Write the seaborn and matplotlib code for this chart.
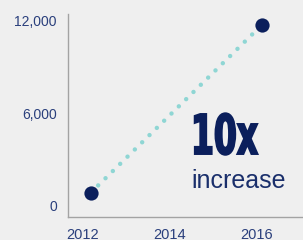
import matplotlib
matplotlib.use("Agg")
from matplotlib import pyplot as plt
from matplotlib import patheffects
from matplotlib.transforms import Affine2D
import seaborn as sns
import pandas as pd

# values
years = [2012.18, 2016.12]
users = [850, 11750]
x_ticks = [2012, 2014, 2016]
y_ticks = [0, 6000, 12000]
y_labels = ["0", "6,000", "12,000"]

df = pd.DataFrame({"year": years, "value": users})

bg = "#efefef"
navy = "#0b1f5c"
label_col = "#2a3f7c"
teal = "#8fd6d4"


class Squeeze(patheffects.Stroke):
    # narrow the glyphs around the text origin and fatten them a little
    def __init__(self, sx, **kw):
        super().__init__(**kw)
        self.sx = sx

    def draw_path(self, renderer, gc, tpath, affine, rgbFace):
        x0 = affine.transform((0, 0))[0]
        squeeze = Affine2D().translate(-x0, 0).scale(self.sx, 1).translate(x0, 0)
        gc0 = renderer.new_gc()
        gc0.copy_properties(gc)
        gc0 = self._update_gc(gc0, self._gc)
        gc0.set_joinstyle("miter")
        renderer.draw_path(gc0, tpath, affine + squeeze, rgbFace)
        gc0.restore()


sns.set_theme(style="white")
plt.rcParams["font.family"] = ["Liberation Sans", "DejaVu Sans"]

fig = plt.figure(figsize=(3.03, 2.40), dpi=100, facecolor=bg)
ax = fig.add_axes([68 / 303, 1 - 216.7 / 240, 1 - 68 / 303, (216.7 - 14) / 240])
ax.set_facecolor(bg)

sns.lineplot(data=df, x="year", y="value", ax=ax, color=teal,
             linewidth=3.2, linestyle=(0, (0.01, 2.3)),
             dash_capstyle="round")

sns.scatterplot(data=df, x="year", y="value", ax=ax, color=navy,
                s=105, linewidth=0, zorder=5)

ax.set_xlim(2011.655, 2017.057)
ax.set_ylim(-713, 12435)
ax.set_xticks(x_ticks)
ax.set_xticklabels([str(t) for t in x_ticks])
ax.set_yticks(y_ticks)
ax.set_yticklabels(y_labels)
ax.set_xlabel("")
ax.set_ylabel("")
ax.tick_params(axis="both", length=0, labelcolor=label_col)
ax.tick_params(axis="y", pad=8, labelsize=10)
ax.tick_params(axis="x", pad=8, labelsize=10.5)

for side in ["top", "right"]:
    ax.spines[side].set_visible(False)
for side in ["left", "bottom"]:
    ax.spines[side].set_color("#a3a3a3")
    ax.spines[side].set_linewidth(1)

big = fig.text(191 / 303, 1 - 154 / 240, "10x", color=navy, fontsize=39.5,
               fontweight="bold", family="DejaVu Sans",
               ha="left", va="baseline")
big.set_path_effects([Squeeze(0.6, linewidth=1.4, foreground=navy)])

fig.text(191 / 303, 1 - 188 / 240, "increase", color="#1a2f6b", fontsize=18,
         ha="left", va="baseline")

fig.savefig("out.png", dpi=100, facecolor=bg)
